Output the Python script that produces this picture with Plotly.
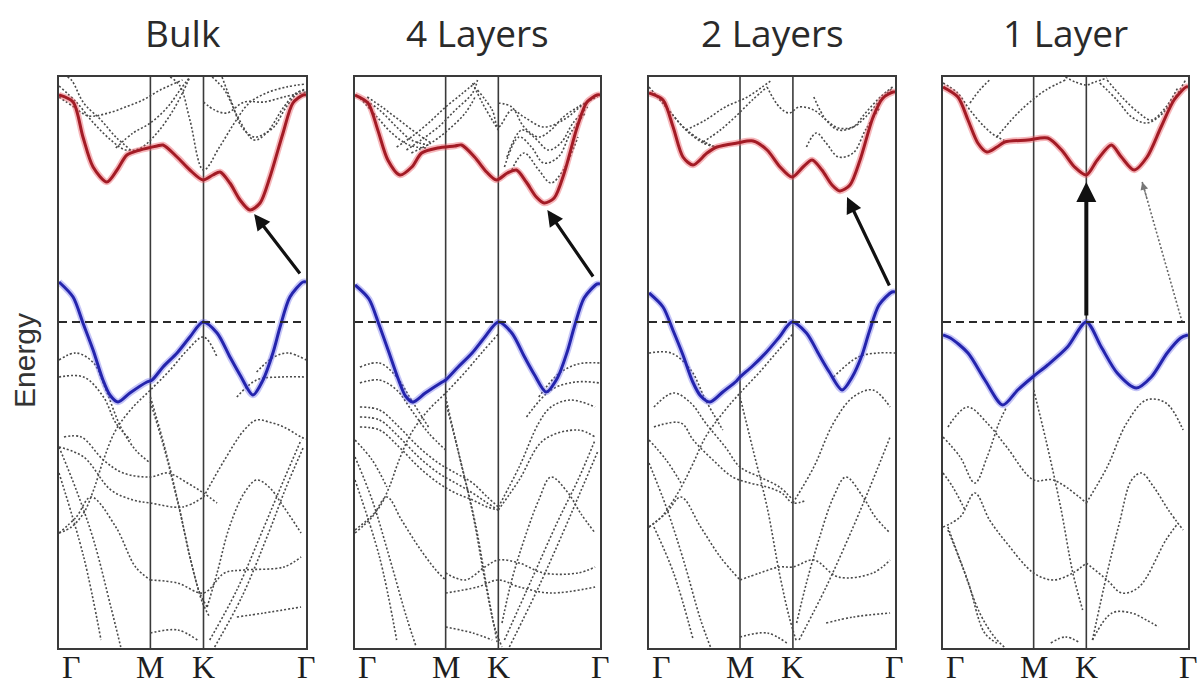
import plotly.graph_objects as go

# ---------------- labels / layout data ----------------
PANEL_TITLES = ["Bulk", "4 Layers", "2 Layers", "1 Layer"]
K_LABELS = ["Γ", "M", "K", "Γ"]
K_POS = [0.0, 0.37, 0.585, 1.0]          # fractional position along Γ-M-K-Γ
E_RANGE = [-3.26, 2.45]                  # energy window (eV, relative to VBM)

# ---------------- Bulk ----------------
BULK_CB_K = [0, .057, .097, .138, .194, .235, .275, .328, .397, .421, .478, .530, .583, .623, .652, .692, .733, .773, .814, .854, .907, .947, .988, 1.0]
BULK_CB_E = [2.27, 2.20, 1.85, 1.55, 1.40, 1.52, 1.67, 1.72, 1.76, 1.77, 1.65, 1.52, 1.42, 1.47, 1.50, 1.39, 1.22, 1.12, 1.19, 1.45, 1.89, 2.19, 2.27, 2.27]
BULK_VB_K = [0, .057, .097, .138, .178, .206, .239, .287, .356, .377, .421, .478, .530, .583, .640, .692, .733, .785, .826, .866, .895, .935, .988, 1.0]
BULK_VB_E = [.40, .25, -.01, -.28, -.58, -.73, -.80, -.71, -.60, -.58, -.45, -.31, -.15, 0, -.11, -.35, -.53, -.73, -.58, -.31, -.05, .25, .40, .40]
BULK_OTHER = [
    ([0, .07, .14, .21, .27, .33, .40, .47, .53], [2.36, 2.20, 1.99, 1.82, 1.72, 1.74, 1.90, 2.15, 2.45]),
    ([.02, .05, .10, .17, .23, .29], [2.47, 2.42, 2.19, 2.02, 1.85, 1.72]),
    ([0, .06, .12, .20, .28, .34, .41, .50], [2.25, 2.15, 2.06, 2.09, 2.16, 2.22, 2.32, 2.42]),
    ([.23, .30, .37, .44, .49, .53], [1.74, 1.89, 1.99, 2.15, 2.32, 2.45]),
    ([.45, .49, .53, .585, .65, .71, .77, .84, .92, 1.0], [2.45, 2.36, 2.02, 1.52, 1.75, 1.99, 2.19, 2.29, 2.35, 2.38]),
    ([.585, .63, .68, .75, .83, .91, 1.0], [2.20, 2.12, 2.09, 2.20, 2.20, 2.25, 2.30]),
    ([.62, .67, .73, .79, .84, .91, .96, 1.0], [2.45, 2.32, 2.02, 1.82, 1.89, 2.15, 2.29, 2.32]),
    ([.66, .70, .74, .79, .83, .87, .92, .97, 1.0], [2.45, 2.19, 1.95, 1.85, 1.88, 1.95, 2.15, 2.30, 2.33]),
    ([0, .07, .14, .19, .25, .31, .37], [-.38, -.31, -.41, -.68, -1.05, -1.28, -1.41]),
    ([0, .10, .18, .23, .29], [-.55, -.55, -.75, -1.01, -1.18]),
    ([0, .05, .10, .14, .18, .23, .30, .37, .45, .52, .585, .64], [-2.11, -2.05, -1.91, -1.68, -1.38, -1.08, -.85, -.68, -.48, -.28, -.15, -.35]),
    ([.02, .09, .18, .26, .37, .44, .52, .585, .64], [-1.15, -1.15, -1.38, -1.51, -1.55, -1.51, -1.61, -1.71, -1.81]),
    ([.585, .67, .75, .80, .85, .91, .98, 1.0], [-1.75, -1.38, -1.08, -.98, -1.0, -1.05, -1.15, -1.17]),
    ([0, .10, .21, .30, .37, .50, .585], [-1.25, -1.35, -1.68, -1.78, -1.81, -1.85, -1.75]),
    ([.60, .64, .69, .75, .80, .85, .91, .98], [-2.85, -2.51, -2.05, -1.71, -1.58, -1.65, -1.85, -2.11]),
    ([.37, .42, .48, .53, .57, .60], [-.75, -1.18, -1.78, -2.35, -2.71, -2.85]),
    ([.37, .43, .49, .54, .58, .61], [-.80, -1.30, -1.90, -2.45, -2.80, -2.95]),
    ([0, .07, .13, .23, .31, .37], [-2.11, -1.95, -1.75, -2.05, -2.45, -2.58]),
    ([.37, .48, .585, .67, .75, .91, .98], [-2.58, -2.61, -2.71, -2.51, -2.48, -2.45, -2.35]),
    ([.61, .72, .83, .91, .98], [-3.18, -2.68, -2.05, -1.58, -1.18]),
    ([.63, .74, .85, .92, .99], [-3.25, -2.75, -2.10, -1.65, -1.25]),
    ([.37, .48, .56], [-3.11, -3.08, -3.18]),
    ([.72, .83, .98], [-2.95, -2.91, -2.85]),
    ([0, .07, .14, .21, .25], [-1.25, -1.68, -2.18, -2.85, -3.25]),
    ([0, .10, .17], [-1.51, -2.35, -3.18]),
    ([.80, .87, .93, 1.0], [-.50, -.35, -.31, -.38]),
    ([.72, .80, .90, 1.0], [-.75, -.58, -.55, -.55]),
]
BULK_ARROWS = [(0.98, 0.47, 0.79, 1.08, "solid")]

# ---------------- 4 Layers ----------------
L4_CB_K = [0, .053, .093, .134, .183, .232, .272, .337, .407, .435, .488, .537, .577, .622, .659, .699, .740, .772, .813, .854, .907, .947, .988, 1.0]
L4_CB_E = [2.27, 2.19, 1.92, 1.62, 1.47, 1.55, 1.69, 1.74, 1.76, 1.77, 1.65, 1.50, 1.42, 1.49, 1.52, 1.40, 1.25, 1.19, 1.24, 1.49, 1.95, 2.20, 2.27, 2.27]
L4_VB_K = [0, .057, .097, .138, .178, .206, .236, .287, .356, .37, .421, .478, .530, .585, .640, .692, .733, .78, .826, .866, .895, .935, .988, 1.0]
L4_VB_E = [.37, .23, -.02, -.30, -.58, -.74, -.80, -.71, -.60, -.58, -.45, -.31, -.15, 0, -.11, -.35, -.53, -.70, -.56, -.30, -.05, .24, .38, .38]
L4_OTHER = [
    ([.02, .09, .15, .22, .29], [2.24, 2.05, 1.89, 1.77, 1.74]),
    ([.02, .10, .17, .23, .30], [2.25, 2.12, 1.95, 1.82, 1.77]),
    ([.05, .11, .18, .25, .31], [2.25, 2.15, 2.02, 1.89, 1.79]),
    ([.17, .23, .30, .37, .44, .49], [1.75, 1.85, 1.99, 2.15, 2.29, 2.39]),
    ([.21, .27, .34, .41, .48, .50], [1.72, 1.82, 1.95, 2.12, 2.29, 2.42]),
    ([.23, .31, .38, .45, .49], [1.69, 1.79, 1.92, 2.09, 2.25]),
    ([.48, .52, .56, .585], [2.39, 2.19, 2.02, 1.92]),
    ([.50, .56, .585, .64, .69, .77, .85, .94, .99], [2.32, 2.12, 1.95, 2.12, 2.05, 1.95, 2.02, 2.19, 2.25]),
    ([.585, .64, .69, .75, .80, .85, .91, .96], [2.19, 2.15, 1.95, 1.85, 1.92, 2.05, 2.15, 2.22]),
    ([.61, .67, .72, .77, .83, .88, .94], [1.55, 1.85, 1.75, 1.59, 1.65, 1.89, 2.09]),
    ([.62, .68, .73, .79, .84, .89, .95], [1.65, 1.92, 1.85, 1.72, 1.79, 1.99, 2.15]),
    ([.64, .69, .75, .80, .85, .91], [1.52, 1.69, 1.52, 1.39, 1.52, 1.85]),
    ([.02, .10, .17, .23, .30], [-.45, -.41, -.55, -.78, -1.05]),
    ([.02, .10, .17, .23, .30, .37], [-.61, -.58, -.68, -.88, -1.11, -1.28]),
    ([.02, .10, .18, .26, .34, .41, .48, .54, .585], [-.85, -.88, -1.05, -1.25, -1.41, -1.51, -1.61, -1.75, -1.85]),
    ([.02, .10, .18, .26, .34, .41, .48, .54, .585], [-.95, -.98, -1.15, -1.35, -1.51, -1.61, -1.71, -1.81, -1.88]),
    ([.02, .10, .18, .26, .34, .41, .48, .54, .585], [-1.05, -1.08, -1.25, -1.45, -1.61, -1.71, -1.78, -1.85, -1.88]),
    ([0, .05, .10, .14, .18, .23, .30, .37, .45, .52, .585], [-2.08, -1.98, -1.85, -1.65, -1.38, -1.11, -.88, -.71, -.50, -.30, -.12]),
    ([0, .07, .13], [-1.18, -1.38, -1.65]),
    ([0, .07, .13, .19, .26, .33, .37], [-2.11, -1.95, -1.75, -1.98, -2.25, -2.48, -2.58]),
    ([.37, .42, .48, .53, .57, .60], [-.75, -1.28, -1.91, -2.58, -3.05, -3.25]),
    ([.37, .43, .49, .54, .58], [-.80, -1.38, -2.0, -2.68, -3.20]),
    ([.585, .67, .75, .80, .88, .98], [-1.85, -1.45, -1.01, -.85, -.78, -.85]),
    ([.585, .67, .77, .91, .98], [-1.88, -1.58, -1.18, -1.08, -1.15]),
    ([.75, .83, .91, 1.0], [-.75, -.52, -.42, -.41]),
    ([.70, .80, .90, 1.0], [-.95, -.68, -.60, -.61]),
    ([.60, .64, .69, .75, .80, .87, .92, .98], [-3.01, -2.58, -2.18, -1.78, -1.55, -1.71, -1.91, -2.11]),
    ([.37, .45, .53, .585, .67, .77, .91, .98], [-2.51, -2.58, -2.45, -2.38, -2.41, -2.51, -2.51, -2.45]),
    ([.37, .50, .585, .67, .80, .98], [-2.71, -2.65, -2.58, -2.65, -2.71, -2.65]),
    ([.61, .72, .83, .91, .98], [-3.18, -2.58, -1.98, -1.58, -1.18]),
    ([.63, .74, .85, .92, .99], [-3.25, -2.70, -2.10, -1.70, -1.30]),
    ([0, .07, .14, .21, .25], [-1.35, -1.78, -2.35, -2.95, -3.25]),
    ([0, .10, .17], [-1.58, -2.35, -3.18]),
    ([.37, .48, .56], [-3.05, -3.11, -3.18]),
]
L4_ARROWS = [(0.976, 0.44, 0.785, 1.12, "solid")]

# ---------------- 2 Layers ----------------
L2_CB_K = [0, .057, .098, .138, .179, .236, .276, .358, .423, .480, .533, .581, .626, .663, .703, .744, .776, .817, .858, .911, .951, .992, 1.0]
L2_CB_E = [2.29, 2.22, 1.95, 1.65, 1.57, 1.69, 1.75, 1.79, 1.81, 1.72, 1.55, 1.45, 1.55, 1.62, 1.52, 1.37, 1.31, 1.37, 1.62, 2.05, 2.24, 2.30, 2.30]
L2_VB_K = [0, .057, .097, .138, .178, .21, .248, .30, .356, .366, .421, .478, .530, .581, .640, .692, .733, .785, .826, .866, .895, .935, .988, 1.0]
L2_VB_E = [.29, .15, -.08, -.33, -.60, -.74, -.80, -.70, -.59, -.56, -.44, -.30, -.15, 0, -.11, -.33, -.50, -.68, -.55, -.33, -.10, .17, .30, .30]
L2_OTHER = [
    ([0, .07, .14, .21, .27], [2.35, 2.15, 1.95, 1.82, 1.75]),
    ([.02, .09, .15, .22, .27], [2.29, 2.09, 1.92, 1.79, 1.75]),
    ([.15, .23, .31, .40, .46, .50], [1.92, 2.02, 2.15, 2.25, 2.35, 2.42]),
    ([.22, .29, .35, .42, .48], [1.80, 1.92, 2.05, 2.22, 2.35]),
    ([.48, .53, .57, .61, .67, .72, .77, .83, .88, .94, .99], [2.35, 2.15, 2.09, 2.15, 2.12, 2.02, 1.94, 1.95, 2.05, 2.22, 2.34]),
    ([.64, .68, .72, .77, .83, .88, .94], [1.75, 1.89, 1.79, 1.65, 1.69, 1.92, 2.15]),
    ([.67, .72, .77, .83, .88, .94, .99], [2.25, 2.02, 1.92, 1.95, 2.09, 2.25, 2.35]),
    ([0, .09, .17, .23, .30], [-.31, -.31, -.48, -.78, -1.08]),
    ([.02, .10, .17, .23, .31, .37, .45, .53, .585], [-.85, -.71, -.81, -1.01, -1.25, -1.45, -1.55, -1.65, -1.78]),
    ([.02, .13, .18, .26, .34, .41, .48, .54, .585, .64], [-1.05, -1.01, -1.18, -1.38, -1.55, -1.61, -1.65, -1.71, -1.81, -1.78]),
    ([0, .05, .10, .14, .18, .23, .30, .37, .45, .52, .585], [-2.05, -1.95, -1.78, -1.61, -1.41, -1.15, -.91, -.71, -.50, -.30, -.12]),
    ([0, .07, .13], [-1.18, -1.38, -1.61]),
    ([0, .07, .13, .21, .29, .37], [-2.05, -1.91, -1.75, -2.05, -2.35, -2.58]),
    ([.37, .42, .48, .53, .57, .60], [-.75, -1.25, -1.85, -2.51, -2.95, -3.20]),
    ([.585, .67, .75, .83, .91, .98], [-1.81, -1.45, -1.01, -.75, -.68, -.85]),
    ([.60, .64, .69, .75, .80, .87, .92, .98], [-3.01, -2.61, -2.18, -1.75, -1.55, -1.75, -1.95, -2.11]),
    ([.37, .45, .53, .585, .67, .77, .91, .98], [-2.58, -2.51, -2.45, -2.45, -2.38, -2.55, -2.51, -2.38]),
    ([.61, .72, .83, .91, .98], [-3.18, -2.65, -2.05, -1.58, -1.15]),
    ([0, .07, .14, .21, .25], [-1.41, -1.85, -2.38, -2.98, -3.25]),
    ([.02, .10, .18], [-2.05, -2.51, -3.18]),
    ([.37, .48, .56], [-3.15, -3.11, -3.21]),
    ([.72, .83, .98], [-3.01, -2.95, -2.91]),
    ([.75, .85, .93, 1.0], [-.55, -.35, -.31, -.31]),
]
L2_ARROWS = [(0.98, 0.35, 0.805, 1.25, "solid")]

# ---------------- 1 Layer ----------------
L1_CB_K = [0, .061, .102, .142, .179, .220, .252, .346, .427, .484, .537, .585, .630, .687, .728, .780, .833, .890, .943, .992, 1.0]
L1_CB_E = [2.35, 2.25, 2.02, 1.79, 1.70, 1.75, 1.80, 1.82, 1.84, 1.72, 1.55, 1.47, 1.62, 1.77, 1.65, 1.52, 1.65, 1.95, 2.22, 2.35, 2.35]
L1_VB_K = [0, .03, .102, .171, .244, .305, .366, .427, .508, .585, .646, .711, .789, .850, .915, .97, 1.0]
L1_VB_E = [-.13, -.16, -.31, -.58, -.83, -.68, -.55, -.43, -.25, 0, -.25, -.51, -.66, -.55, -.31, -.16, -.13]
L1_OTHER = [
    ([0, .06, .11, .17, .22, .25], [2.39, 2.29, 2.12, 1.95, 1.85, 1.82]),
    ([.22, .29, .35, .42, .50], [1.85, 2.05, 2.19, 2.32, 2.42]),
    ([.11, .15, .19], [2.19, 2.32, 2.42]),
    ([.50, .54, .585, .62, .67], [2.45, 2.40, 2.37, 2.40, 2.44]),
    ([.64, .71, .77, .83, .88, .94, .99], [2.39, 2.22, 2.05, 1.99, 2.05, 2.22, 2.42]),
    ([.67, .73, .80, .85, .91, .96], [2.42, 2.25, 2.09, 2.02, 2.15, 2.35]),
    ([.02, .10, .18, .26, .37, .45, .585], [-1.05, -.85, -1.01, -1.25, -1.58, -1.58, -1.81]),
    ([0, .07, .13, .18, .23, .26], [-1.15, -1.35, -1.61, -1.35, -1.00, -.85]),
    ([0, .07, .13, .19, .26, .37, .45, .53, .585], [-2.05, -1.95, -1.71, -1.98, -2.21, -2.51, -2.58, -2.51, -2.41]),
    ([0, .04, .09], [-1.51, -1.65, -1.88]),
    ([.37, .42, .48, .53, .57], [-.68, -1.18, -1.85, -2.51, -2.88]),
    ([.585, .67, .75, .83, .91, .98], [-1.81, -1.45, -1.01, -.78, -.81, -1.08]),
    ([.61, .67, .72, .77, .81, .86, .92, .98], [-3.18, -2.51, -2.01, -1.58, -1.51, -1.65, -1.88, -2.08]),
    ([.585, .67, .73, .80, .91, .96], [-2.41, -2.58, -2.71, -2.65, -2.18, -2.01]),
    ([.61, .69, .77, .83, .88], [-3.18, -2.91, -2.91, -2.98, -3.05]),
    ([.02, .08, .15, .21, .25], [-2.05, -2.45, -2.91, -3.15, -3.25]),
    ([.02, .10, .17, .22], [-2.08, -2.58, -3.11, -3.21]),
    ([.44, .50, .56], [-3.21, -3.15, -3.21]),
]
L1_ARROWS = [(0.585, 0.05, 0.585, 1.40, "solid"), (0.976, 0.0, 0.813, 1.40, "dotted")]

PANELS = [
    (BULK_CB_K, BULK_CB_E, BULK_VB_K, BULK_VB_E, BULK_OTHER, BULK_ARROWS),
    (L4_CB_K, L4_CB_E, L4_VB_K, L4_VB_E, L4_OTHER, L4_ARROWS),
    (L2_CB_K, L2_CB_E, L2_VB_K, L2_VB_E, L2_OTHER, L2_ARROWS),
    (L1_CB_K, L1_CB_E, L1_VB_K, L1_VB_E, L1_OTHER, L1_ARROWS),
]

# ---------------- figure ----------------
W, H = 1201, 686
X_DOMAINS = [[59 / W, 306 / W], [355 / W, 600 / W], [649 / W, 895 / W], [943 / W, 1188 / W]]
Y_DOMAIN = [1 - 648 / H, 1 - 77 / H]

RED, RED_GLOW = "#a31b25", "rgba(235,95,105,0.45)"
BLUE, BLUE_GLOW = "#2424ad", "rgba(110,110,235,0.40)"
DOT_COLOR = "#4a4a4a"
FRAME = "#3a3a3a"

fig = go.Figure()
shapes, annotations = [], []

for i, (cbk, cbe, vbk, vbe, other, arrows) in enumerate(PANELS):
    n = "" if i == 0 else str(i + 1)
    xa, ya = "x" + n, "y" + n
    for bk, be in other:
        fig.add_trace(go.Scatter(x=bk, y=be, xaxis=xa, yaxis=ya, mode="lines",
                                 line=dict(color=DOT_COLOR, width=1.6, dash="2px,2px", shape="spline", smoothing=1.0),
                                 hoverinfo="skip", showlegend=False))
    for kk, ee, col, glow in [(vbk, vbe, BLUE, BLUE_GLOW), (cbk, cbe, RED, RED_GLOW)]:
        fig.add_trace(go.Scatter(x=kk, y=ee, xaxis=xa, yaxis=ya, mode="lines",
                                 line=dict(color=glow, width=6.5, shape="spline", smoothing=0.8),
                                 hoverinfo="skip", showlegend=False))
        fig.add_trace(go.Scatter(x=kk, y=ee, xaxis=xa, yaxis=ya, mode="lines",
                                 line=dict(color=col, width=3, shape="spline", smoothing=0.8),
                                 hoverinfo="skip", showlegend=False))

    # high-symmetry vertical lines (M, K)
    for kp in K_POS[1:3]:
        shapes.append(dict(type="line", xref=xa, yref=ya + " domain", x0=kp, x1=kp, y0=0, y1=1,
                           line=dict(color=FRAME, width=1.6), layer="below"))
    # VBM dashed reference
    shapes.append(dict(type="line", xref=xa + " domain", yref=ya, x0=0, x1=1, y0=0, y1=0,
                       line=dict(color="#2a2a2a", width=2, dash="8px,5px"), layer="above"))

    # arrows
    for kt, et, kh, eh, style in arrows:
        if style == "solid":
            annotations.append(dict(x=kh, y=eh, ax=kt, ay=et, xref=xa, yref=ya, axref=xa, ayref=ya,
                                    text="", showarrow=True, arrowhead=2, arrowsize=1.0,
                                    arrowwidth=3.2 if i < 3 else 4, arrowcolor="#111111", standoff=0))
        else:
            fig.add_trace(go.Scatter(x=[kt, kh], y=[et, eh], xaxis=xa, yaxis=ya, mode="lines",
                                     line=dict(color="#666666", width=1.6, dash="2px,2px"),
                                     hoverinfo="skip", showlegend=False))
            annotations.append(dict(x=kh, y=eh, ax=kh + (kt - kh) * 0.12, ay=eh + (et - eh) * 0.12,
                                    xref=xa, yref=ya, axref=xa, ayref=ya, text="", showarrow=True,
                                    arrowhead=2, arrowsize=1.3, arrowwidth=1.2, arrowcolor="#777777",
                                    standoff=0))

    # panel title
    xc = (X_DOMAINS[i][0] + X_DOMAINS[i][1]) / 2
    annotations.append(dict(x=xc, y=1 - 33 / H, xref="paper", yref="paper", text=PANEL_TITLES[i],
                            showarrow=False, font=dict(family="Open Sans", size=37, color="#2a2a2a"),
                            xanchor="center", yanchor="middle"))
    # k-point labels
    for j, (lab, kp) in enumerate(zip(K_LABELS, K_POS)):
        annotations.append(dict(x=kp, y=1 - 667 / H, xref=xa, yref="paper", text=lab, showarrow=False,
                                xanchor="left" if j == 0 else "center", yanchor="middle",
                                xshift=1 if j == 0 else 0,
                                font=dict(family="Liberation Serif", size=32, color="#1e1e1e")))

    axis_common = dict(showgrid=False, zeroline=False, showticklabels=False, ticks="",
                       showline=True, mirror=True, linecolor=FRAME, linewidth=1.6)
    fig.layout["xaxis" + n] = dict(domain=X_DOMAINS[i], range=[0, 1], anchor=ya, fixedrange=True, **axis_common)
    fig.layout["yaxis" + n] = dict(domain=Y_DOMAIN, range=E_RANGE, anchor=xa, fixedrange=True, **axis_common)

annotations.append(dict(x=24 / W, y=1 - 361 / H, xref="paper", yref="paper", text="Energy", textangle=-90,
                        showarrow=False, font=dict(family="Liberation Sans", size=30, color="#333333"),
                        xanchor="center", yanchor="middle"))

fig.update_layout(width=W, height=H, margin=dict(l=0, r=0, t=0, b=0),
                  paper_bgcolor="white", plot_bgcolor="white",
                  shapes=shapes, annotations=annotations, showlegend=False)

fig.write_html("out.html", include_plotlyjs=True, config={"displayModeBar": False})
